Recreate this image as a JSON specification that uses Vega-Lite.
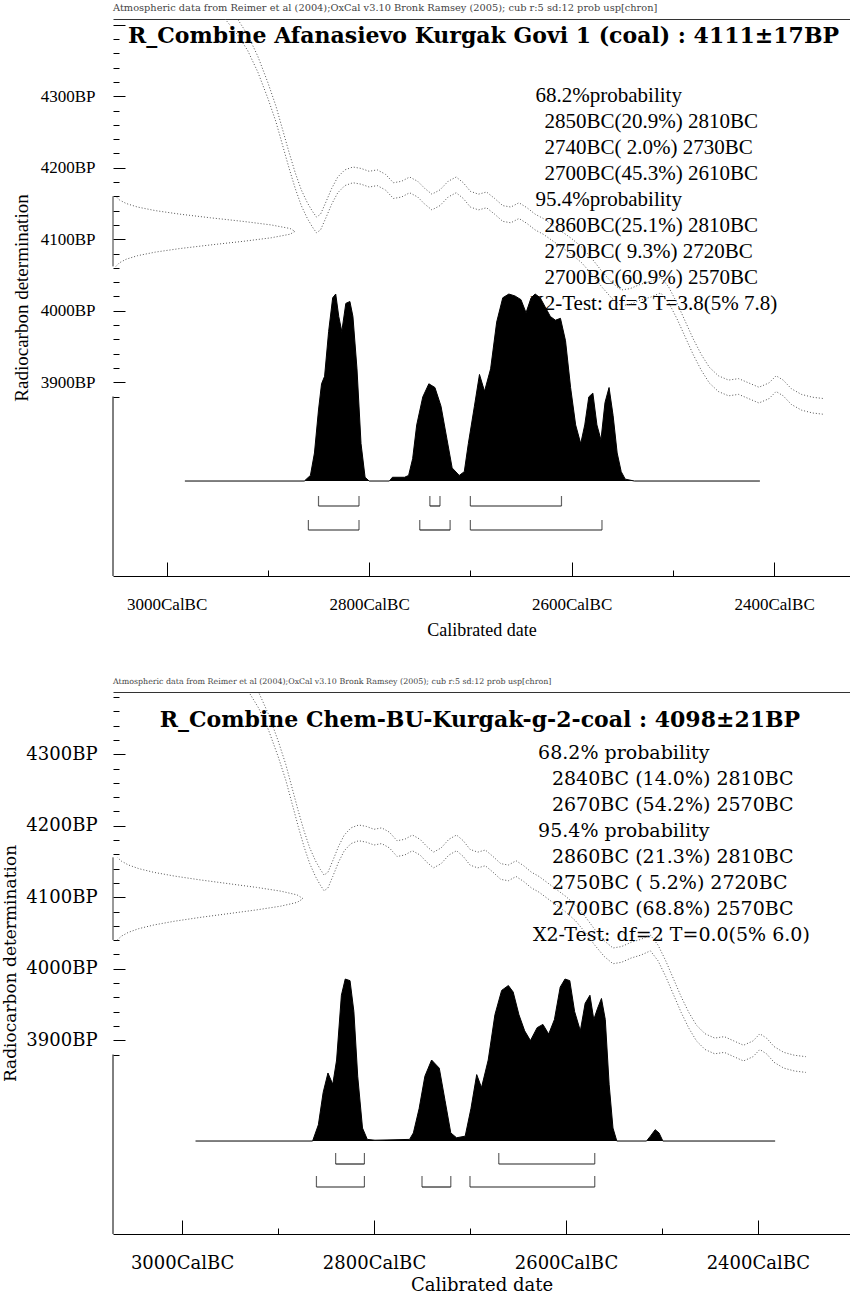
{
  "$schema": "https://vega.github.io/schema/vega-lite/v6.json",
  "background": "white",
  "padding": {"left": 1, "top": 3, "right": 0, "bottom": 0},
  "spacing": 39,
  "config": {
    "view": {"stroke": null},
    "font": "Liberation Serif",
    "axis": {"grid": false, "labelColor": "black", "titleColor": "black", "domainColor": "black", "tickColor": "black", "titleFontWeight": "normal", "labelFlush": false}
  },
  "datasets": {
    "curve": [
      {"year": 2950, "hi": 4443, "lo": 4421}, {"year": 2940, "hi": 4426, "lo": 4404}, {"year": 2930, "hi": 4408, "lo": 4386},
      {"year": 2920, "hi": 4386, "lo": 4364}, {"year": 2910, "hi": 4356, "lo": 4334}, {"year": 2900, "hi": 4319, "lo": 4297},
      {"year": 2892, "hi": 4286, "lo": 4264}, {"year": 2885, "hi": 4251, "lo": 4229}, {"year": 2879, "hi": 4221, "lo": 4199},
      {"year": 2873, "hi": 4193, "lo": 4171}, {"year": 2867, "hi": 4169, "lo": 4147}, {"year": 2861, "hi": 4151, "lo": 4129},
      {"year": 2856, "hi": 4139, "lo": 4117}, {"year": 2852, "hi": 4131, "lo": 4109}, {"year": 2848, "hi": 4135, "lo": 4113},
      {"year": 2843, "hi": 4151, "lo": 4129}, {"year": 2837, "hi": 4171, "lo": 4149}, {"year": 2831, "hi": 4187, "lo": 4165},
      {"year": 2824, "hi": 4197, "lo": 4175}, {"year": 2816, "hi": 4201, "lo": 4179}, {"year": 2808, "hi": 4199, "lo": 4177},
      {"year": 2800, "hi": 4195, "lo": 4173}, {"year": 2792, "hi": 4197, "lo": 4175}, {"year": 2784, "hi": 4191, "lo": 4169},
      {"year": 2776, "hi": 4179, "lo": 4157}, {"year": 2768, "hi": 4181, "lo": 4159}, {"year": 2760, "hi": 4187, "lo": 4165},
      {"year": 2752, "hi": 4181, "lo": 4159}, {"year": 2745, "hi": 4171, "lo": 4149}, {"year": 2738, "hi": 4163, "lo": 4141},
      {"year": 2730, "hi": 4169, "lo": 4147}, {"year": 2722, "hi": 4181, "lo": 4159}, {"year": 2714, "hi": 4187, "lo": 4165},
      {"year": 2707, "hi": 4179, "lo": 4157}, {"year": 2700, "hi": 4167, "lo": 4145}, {"year": 2692, "hi": 4163, "lo": 4141},
      {"year": 2684, "hi": 4166, "lo": 4144}, {"year": 2676, "hi": 4157, "lo": 4135}, {"year": 2668, "hi": 4147, "lo": 4125},
      {"year": 2660, "hi": 4145, "lo": 4123}, {"year": 2652, "hi": 4151, "lo": 4129}, {"year": 2644, "hi": 4144, "lo": 4122},
      {"year": 2636, "hi": 4135, "lo": 4113}, {"year": 2628, "hi": 4129, "lo": 4107}, {"year": 2620, "hi": 4121, "lo": 4099},
      {"year": 2610, "hi": 4111, "lo": 4089}, {"year": 2600, "hi": 4101, "lo": 4079}, {"year": 2590, "hi": 4089, "lo": 4067},
      {"year": 2580, "hi": 4073, "lo": 4051}, {"year": 2570, "hi": 4055, "lo": 4033}, {"year": 2560, "hi": 4039, "lo": 4017},
      {"year": 2551, "hi": 4029, "lo": 4007}, {"year": 2542, "hi": 4031, "lo": 4009}, {"year": 2532, "hi": 4037, "lo": 4015},
      {"year": 2522, "hi": 4041, "lo": 4019}, {"year": 2512, "hi": 4047, "lo": 4025}, {"year": 2504, "hi": 4033, "lo": 4011},
      {"year": 2496, "hi": 4011, "lo": 3989}, {"year": 2488, "hi": 3986, "lo": 3964}, {"year": 2480, "hi": 3961, "lo": 3939},
      {"year": 2472, "hi": 3939, "lo": 3917}, {"year": 2464, "hi": 3921, "lo": 3899}, {"year": 2455, "hi": 3909, "lo": 3887},
      {"year": 2445, "hi": 3903, "lo": 3881}, {"year": 2435, "hi": 3905, "lo": 3883}, {"year": 2425, "hi": 3899, "lo": 3877},
      {"year": 2415, "hi": 3893, "lo": 3871}, {"year": 2405, "hi": 3899, "lo": 3877}, {"year": 2398, "hi": 3909, "lo": 3887},
      {"year": 2391, "hi": 3903, "lo": 3881}, {"year": 2383, "hi": 3891, "lo": 3869}, {"year": 2373, "hi": 3883, "lo": 3861},
      {"year": 2362, "hi": 3879, "lo": 3857}, {"year": 2350, "hi": 3877, "lo": 3855}
    ],
    "gauss1": [
      {"bp": 4160, "d": 0.016}, {"bp": 4155, "d": 0.035}, {"bp": 4150, "d": 0.072}, {"bp": 4145, "d": 0.135},
      {"bp": 4140, "d": 0.233}, {"bp": 4135, "d": 0.369}, {"bp": 4130, "d": 0.535}, {"bp": 4125, "d": 0.713},
      {"bp": 4120, "d": 0.869}, {"bp": 4115, "d": 0.973}, {"bp": 4111, "d": 1.0}, {"bp": 4107, "d": 0.973},
      {"bp": 4102, "d": 0.869}, {"bp": 4097, "d": 0.713}, {"bp": 4092, "d": 0.535}, {"bp": 4087, "d": 0.369},
      {"bp": 4082, "d": 0.233}, {"bp": 4077, "d": 0.135}, {"bp": 4072, "d": 0.072}, {"bp": 4067, "d": 0.035},
      {"bp": 4062, "d": 0.016}
    ],
    "gauss2": [
      {"bp": 4155.75, "d": 0.023}, {"bp": 4150.5, "d": 0.044}, {"bp": 4145.25, "d": 0.08}, {"bp": 4140, "d": 0.135},
      {"bp": 4134.75, "d": 0.216}, {"bp": 4129.5, "d": 0.325}, {"bp": 4124.25, "d": 0.458}, {"bp": 4119, "d": 0.607},
      {"bp": 4113.75, "d": 0.755}, {"bp": 4108.5, "d": 0.883}, {"bp": 4103.25, "d": 0.969}, {"bp": 4098, "d": 1.0},
      {"bp": 4092.75, "d": 0.969}, {"bp": 4087.5, "d": 0.883}, {"bp": 4082.25, "d": 0.755}, {"bp": 4077, "d": 0.607},
      {"bp": 4071.75, "d": 0.458}, {"bp": 4066.5, "d": 0.325}, {"bp": 4061.25, "d": 0.216}, {"bp": 4056, "d": 0.135},
      {"bp": 4050.75, "d": 0.08}, {"bp": 4045.5, "d": 0.044}, {"bp": 4040.25, "d": 0.023}
    ],
    "dist1": [
      {"year": 2982, "p": 0}, {"year": 2864, "p": 0}, {"year": 2858, "p": 0.03}, {"year": 2854, "p": 0.15},
      {"year": 2850, "p": 0.38}, {"year": 2847, "p": 0.52}, {"year": 2844, "p": 0.56}, {"year": 2840, "p": 0.8},
      {"year": 2836, "p": 0.98}, {"year": 2833, "p": 1.0}, {"year": 2830, "p": 0.88}, {"year": 2827, "p": 0.8},
      {"year": 2823, "p": 0.95}, {"year": 2819, "p": 0.96}, {"year": 2816, "p": 0.88}, {"year": 2812, "p": 0.6},
      {"year": 2808, "p": 0.2}, {"year": 2804, "p": 0.02}, {"year": 2800, "p": 0}, {"year": 2780, "p": 0},
      {"year": 2777, "p": 0.02}, {"year": 2765, "p": 0.02}, {"year": 2761, "p": 0.03}, {"year": 2757, "p": 0.12},
      {"year": 2753, "p": 0.3}, {"year": 2747, "p": 0.45}, {"year": 2741, "p": 0.52}, {"year": 2735, "p": 0.5},
      {"year": 2729, "p": 0.4}, {"year": 2723, "p": 0.22}, {"year": 2718, "p": 0.07}, {"year": 2711, "p": 0.03},
      {"year": 2706, "p": 0.05}, {"year": 2702, "p": 0.2}, {"year": 2696, "p": 0.4}, {"year": 2691, "p": 0.57},
      {"year": 2686, "p": 0.48}, {"year": 2680, "p": 0.6}, {"year": 2674, "p": 0.85}, {"year": 2668, "p": 0.98},
      {"year": 2662, "p": 1.0}, {"year": 2656, "p": 0.99}, {"year": 2650, "p": 0.97}, {"year": 2645, "p": 0.9},
      {"year": 2640, "p": 0.98}, {"year": 2636, "p": 1.0}, {"year": 2631, "p": 0.98}, {"year": 2626, "p": 0.93},
      {"year": 2621, "p": 0.88}, {"year": 2616, "p": 0.86}, {"year": 2611, "p": 0.87}, {"year": 2606, "p": 0.75},
      {"year": 2601, "p": 0.5}, {"year": 2596, "p": 0.3}, {"year": 2591, "p": 0.2}, {"year": 2587, "p": 0.3},
      {"year": 2583, "p": 0.45}, {"year": 2579, "p": 0.47}, {"year": 2575, "p": 0.3}, {"year": 2571, "p": 0.22},
      {"year": 2567, "p": 0.42}, {"year": 2563, "p": 0.5}, {"year": 2559, "p": 0.35}, {"year": 2555, "p": 0.15},
      {"year": 2551, "p": 0.05}, {"year": 2547, "p": 0.01}, {"year": 2538, "p": 0}, {"year": 2414, "p": 0}
    ],
    "dist2": [
      {"year": 2986, "p": 0}, {"year": 2864, "p": 0}, {"year": 2858, "p": 0.1}, {"year": 2853, "p": 0.3},
      {"year": 2848, "p": 0.42}, {"year": 2843, "p": 0.35}, {"year": 2839, "p": 0.5}, {"year": 2834, "p": 0.9},
      {"year": 2830, "p": 1.0}, {"year": 2825, "p": 0.99}, {"year": 2821, "p": 0.8}, {"year": 2817, "p": 0.4},
      {"year": 2812, "p": 0.08}, {"year": 2807, "p": 0.01}, {"year": 2799, "p": 0.005}, {"year": 2763, "p": 0.01},
      {"year": 2759, "p": 0.05}, {"year": 2753, "p": 0.2}, {"year": 2747, "p": 0.4}, {"year": 2740, "p": 0.5},
      {"year": 2732, "p": 0.45}, {"year": 2726, "p": 0.25}, {"year": 2720, "p": 0.05}, {"year": 2714, "p": 0.02},
      {"year": 2705, "p": 0.03}, {"year": 2699, "p": 0.2}, {"year": 2693, "p": 0.41}, {"year": 2688, "p": 0.33},
      {"year": 2681, "p": 0.5}, {"year": 2674, "p": 0.78}, {"year": 2667, "p": 0.93}, {"year": 2660, "p": 0.96},
      {"year": 2655, "p": 0.92}, {"year": 2649, "p": 0.78}, {"year": 2643, "p": 0.68}, {"year": 2637, "p": 0.62},
      {"year": 2630, "p": 0.7}, {"year": 2624, "p": 0.72}, {"year": 2618, "p": 0.66}, {"year": 2612, "p": 0.75},
      {"year": 2606, "p": 0.95}, {"year": 2601, "p": 1.0}, {"year": 2596, "p": 0.99}, {"year": 2591, "p": 0.8},
      {"year": 2585, "p": 0.68}, {"year": 2580, "p": 0.85}, {"year": 2575, "p": 0.9}, {"year": 2571, "p": 0.75},
      {"year": 2567, "p": 0.82}, {"year": 2563, "p": 0.88}, {"year": 2559, "p": 0.75}, {"year": 2555, "p": 0.35},
      {"year": 2551, "p": 0.08}, {"year": 2547, "p": 0}, {"year": 2516, "p": 0}, {"year": 2512, "p": 0.03},
      {"year": 2507, "p": 0.07}, {"year": 2503, "p": 0.05}, {"year": 2499, "p": 0}, {"year": 2382, "p": 0}
    ],
    "ranges1": [
      {"row": 1, "from": 2850, "to": 2810}, {"row": 1, "from": 2740, "to": 2730}, {"row": 1, "from": 2700, "to": 2610},
      {"row": 2, "from": 2860, "to": 2810}, {"row": 2, "from": 2750, "to": 2720}, {"row": 2, "from": 2700, "to": 2570}
    ],
    "ranges2": [
      {"row": 1, "from": 2840, "to": 2810}, {"row": 1, "from": 2670, "to": 2570},
      {"row": 2, "from": 2860, "to": 2810}, {"row": 2, "from": 2750, "to": 2720}, {"row": 2, "from": 2700, "to": 2570}
    ],
    "text1": [
      {"n": 1, "kind": "head", "t": "68.2%probability"},
      {"n": 2, "kind": "range", "t": "2850BC(20.9%) 2810BC"},
      {"n": 3, "kind": "range", "t": "2740BC( 2.0%) 2730BC"},
      {"n": 4, "kind": "range", "t": "2700BC(45.3%) 2610BC"},
      {"n": 5, "kind": "head", "t": "95.4%probability"},
      {"n": 6, "kind": "range", "t": "2860BC(25.1%) 2810BC"},
      {"n": 7, "kind": "range", "t": "2750BC( 9.3%) 2720BC"},
      {"n": 8, "kind": "range", "t": "2700BC(60.9%) 2570BC"},
      {"n": 9, "kind": "test", "t": "X2-Test: df=3 T=3.8(5% 7.8)"}
    ],
    "text2": [
      {"n": 1, "kind": "head", "t": "68.2% probability"},
      {"n": 2, "kind": "range", "t": "2840BC (14.0%) 2810BC"},
      {"n": 3, "kind": "range", "t": "2670BC (54.2%) 2570BC"},
      {"n": 4, "kind": "head", "t": "95.4% probability"},
      {"n": 5, "kind": "range", "t": "2860BC (21.3%) 2810BC"},
      {"n": 6, "kind": "range", "t": "2750BC ( 5.2%) 2720BC"},
      {"n": 7, "kind": "range", "t": "2700BC (68.8%) 2570BC"},
      {"n": 8, "kind": "test", "t": "X2-Test: df=2 T=0.0(5% 6.0)"}
    ]
  },
  "vconcat": [
    {
      "title": {"text": "Atmospheric data from Reimer et al (2004);OxCal v3.10 Bronk Ramsey (2005); cub r:5 sd:12 prob usp[chron]", "anchor": "start", "frame": "group", "font": "DejaVu Serif", "fontSize": 9.8, "fontWeight": "normal", "color": "#444", "offset": 6},
      "width": 737,
      "height": 557,
      "resolve": {"scale": {"x": "independent", "y": "independent"}, "axis": {"x": "independent", "y": "independent"}},
      "layer": [
        {
          "data": {"values": [{}]},
          "mark": {"type": "rule", "color": "black", "strokeWidth": 1},
          "encoding": {
            "x": {"datum": 3053, "type": "quantitative", "scale": {"domain": [3053, 2325], "nice": false, "zero": false}, "axis": null},
            "y": {"datum": 3880, "type": "quantitative", "scale": {"domain": [3629, 4408], "nice": false, "zero": false}, "axis": null},
            "y2": {"datum": 3629}
          }
        },
        {
          "data": {"name": "gauss1"},
          "mark": {"type": "rule", "color": "#333", "strokeWidth": 1},
          "encoding": {
            "x": {"datum": 0, "type": "quantitative", "scale": {"domain": [0, 4.05], "nice": false, "zero": false}, "axis": null},
            "y": {"aggregate": "min", "field": "bp", "type": "quantitative", "scale": {"domain": [3629, 4408], "nice": false, "zero": false}, "axis": null},
            "y2": {"aggregate": "max", "field": "bp"}
          }
        },
        {
          "data": {"name": "text1"},
          "transform": [{"filter": "datum.kind === 'head'"}],
          "mark": {"type": "text", "align": "left", "baseline": "middle", "font": "Liberation Serif", "fontSize": 21, "color": "black"},
          "encoding": {
            "x": {"datum": 2635.6, "type": "quantitative", "scale": {"domain": [3053, 2325], "nice": false, "zero": false}, "axis": null},
            "y": {"field": "n", "type": "quantitative", "scale": {"domain": [19.46, -1.96], "nice": false, "zero": false}, "axis": null},
            "text": {"field": "t"}
          }
        },
        {
          "data": {"name": "text1"},
          "transform": [{"filter": "datum.kind === 'range'"}],
          "mark": {"type": "text", "align": "left", "baseline": "middle", "font": "Liberation Serif", "fontSize": 21, "color": "black"},
          "encoding": {
            "x": {"datum": 2626.7, "type": "quantitative", "scale": {"domain": [3053, 2325], "nice": false, "zero": false}, "axis": null},
            "y": {"field": "n", "type": "quantitative", "scale": {"domain": [19.46, -1.96], "nice": false, "zero": false}, "axis": null},
            "text": {"field": "t"}
          }
        },
        {
          "data": {"name": "text1"},
          "transform": [{"filter": "datum.kind === 'test'"}],
          "mark": {"type": "text", "align": "left", "baseline": "middle", "font": "Liberation Serif", "fontSize": 21, "color": "black"},
          "encoding": {
            "x": {"datum": 2641.5, "type": "quantitative", "scale": {"domain": [3053, 2325], "nice": false, "zero": false}, "axis": null},
            "y": {"field": "n", "type": "quantitative", "scale": {"domain": [19.46, -1.96], "nice": false, "zero": false}, "axis": null},
            "text": {"field": "t"}
          }
        },
        {
          "data": {"name": "curve"},
          "transform": [{"fold": ["hi", "lo"], "as": ["bound", "bp"]}],
          "mark": {"type": "line", "color": "#555", "strokeWidth": 1, "strokeDash": [1, 2], "clip": true},
          "encoding": {
            "x": {"field": "year", "type": "quantitative", "scale": {"domain": [3053, 2325], "nice": false, "zero": false},
                  "axis": {"orient": "top", "domain": true, "domainColor": "#333", "ticks": false, "labels": false, "title": null}},
            "y": {"field": "bp", "type": "quantitative", "scale": {"domain": [3629, 4408], "nice": false, "zero": false},
                  "axis": {"orient": "left", "domain": false,
                           "values": [3880, 3900, 3920, 3940, 3960, 3980, 4000, 4020, 4040, 4060, 4080, 4100, 4120, 4140, 4160, 4180, 4200, 4220, 4240, 4260, 4280, 4300, 4320, 4340, 4360, 4380, 4400],
                           "labelExpr": "datum.value % 100 === 0 && datum.value <= 4300 ? datum.value + 'BP' : ''",
                           "tickSize": {"condition": {"test": "datum.value % 100 === 0", "value": -12}, "value": -6},
                           "labelPadding": 30, "labelFont": "Liberation Serif", "labelFontSize": 17,
                           "title": "Radiocarbon determination", "titleFont": "Liberation Serif", "titleFontSize": 19, "titlePadding": 9}},
            "detail": {"field": "bound"}
          }
        },
        {
          "data": {"name": "gauss1"},
          "mark": {"type": "line", "color": "#555", "strokeWidth": 1, "strokeDash": [1, 2]},
          "encoding": {
            "x": {"field": "d", "type": "quantitative", "scale": {"domain": [0, 4.05], "nice": false, "zero": false}, "axis": null},
            "y": {"field": "bp", "type": "quantitative", "scale": {"domain": [3629, 4408], "nice": false, "zero": false}, "axis": null},
            "order": {"field": "bp"}
          }
        },
        {
          "data": {"name": "dist1"},
          "mark": {"type": "area", "color": "black", "opacity": 1, "fillOpacity": 1, "line": {"color": "black", "strokeWidth": 1}},
          "encoding": {
            "x": {"field": "year", "type": "quantitative", "scale": {"domain": [3053, 2325], "nice": false, "zero": false},
                  "axis": {"orient": "bottom", "values": [3000, 2900, 2800, 2700, 2600, 2500, 2400],
                           "labelExpr": "datum.value % 200 === 0 ? datum.value + 'CalBC' : ''",
                           "tickSize": {"condition": {"test": "datum.value % 200 === 0", "value": -14}, "value": -6},
                           "labelPadding": 34, "labelFont": "Liberation Serif", "labelFontSize": 17,
                           "title": "Calibrated date", "titleFont": "Liberation Serif", "titleFontSize": 18, "titlePadding": 9}},
            "y": {"field": "p", "type": "quantitative", "scale": {"domain": [-0.508, 2.471], "nice": false, "zero": false}, "axis": null},
            "y2": {"datum": 0}
          }
        },
        {
          "data": {"name": "ranges1"},
          "mark": {"type": "rule", "color": "#222", "strokeWidth": 1.2},
          "encoding": {
            "x": {"field": "from", "type": "quantitative", "scale": {"domain": [3053, 2325], "nice": false, "zero": false}, "axis": null},
            "x2": {"field": "to"},
            "y": {"field": "row", "type": "quantitative", "scale": {"domain": [3.917, -19.29], "nice": false, "zero": false}, "axis": null}
          }
        },
        {
          "data": {"name": "ranges1"},
          "transform": [{"fold": ["from", "to"], "as": ["end", "yr"]}],
          "mark": {"type": "tick", "orient": "vertical", "color": "#222", "thickness": 1.2, "size": 10, "yOffset": -5},
          "encoding": {
            "x": {"field": "yr", "type": "quantitative", "scale": {"domain": [3053, 2325], "nice": false, "zero": false}, "axis": null},
            "y": {"field": "row", "type": "quantitative", "scale": {"domain": [3.917, -19.29], "nice": false, "zero": false}, "axis": null}
          }
        },
        {
          "data": {"values": [{"t": "R_Combine Afanasievo Kurgak Govi 1 (coal) : 4111±17BP"}]},
          "mark": {"type": "text", "align": "center", "baseline": "middle", "font": "DejaVu Serif", "fontWeight": "bold", "fontSize": 22, "color": "black"},
          "encoding": {
            "x": {"datum": 2687, "type": "quantitative", "scale": {"domain": [3053, 2325], "nice": false, "zero": false}, "axis": null},
            "y": {"datum": -1.3, "type": "quantitative", "scale": {"domain": [19.46, -1.96], "nice": false, "zero": false}, "axis": null},
            "text": {"field": "t"}
          }
        }
      ]
    },
    {
      "title": {"text": "Atmospheric data from Reimer et al (2004);OxCal v3.10 Bronk Ramsey (2005); cub r:5 sd:12 prob usp[chron]", "anchor": "start", "frame": "group", "font": "DejaVu Serif", "fontSize": 7.9, "fontWeight": "normal", "color": "#444", "offset": 6},
      "width": 737,
      "height": 542,
      "resolve": {"scale": {"x": "independent", "y": "independent"}, "axis": {"x": "independent", "y": "independent"}},
      "layer": [
        {
          "data": {"values": [{}]},
          "mark": {"type": "rule", "color": "black", "strokeWidth": 1},
          "encoding": {
            "x": {"datum": 3072, "type": "quantitative", "scale": {"domain": [3072, 2304], "nice": false, "zero": false}, "axis": null},
            "y": {"datum": 3880, "type": "quantitative", "scale": {"domain": [3629, 4387], "nice": false, "zero": false}, "axis": null},
            "y2": {"datum": 3629}
          }
        },
        {
          "data": {"name": "gauss2"},
          "mark": {"type": "rule", "color": "#333", "strokeWidth": 1},
          "encoding": {
            "x": {"datum": 0, "type": "quantitative", "scale": {"domain": [0, 3.879], "nice": false, "zero": false}, "axis": null},
            "y": {"aggregate": "min", "field": "bp", "type": "quantitative", "scale": {"domain": [3629, 4387], "nice": false, "zero": false}, "axis": null},
            "y2": {"aggregate": "max", "field": "bp"}
          }
        },
        {
          "data": {"name": "text2"},
          "transform": [{"filter": "datum.kind === 'head'"}],
          "mark": {"type": "text", "align": "left", "baseline": "middle", "font": "DejaVu Serif", "fontSize": 19, "color": "black"},
          "encoding": {
            "x": {"datum": 2629, "type": "quantitative", "scale": {"domain": [3072, 2304], "nice": false, "zero": false}, "axis": null},
            "y": {"field": "n", "type": "quantitative", "scale": {"domain": [19.5, -1.346], "nice": false, "zero": false}, "axis": null},
            "text": {"field": "t"}
          }
        },
        {
          "data": {"name": "text2"},
          "transform": [{"filter": "datum.kind === 'range'"}],
          "mark": {"type": "text", "align": "left", "baseline": "middle", "font": "DejaVu Serif", "fontSize": 19, "color": "black"},
          "encoding": {
            "x": {"datum": 2614.6, "type": "quantitative", "scale": {"domain": [3072, 2304], "nice": false, "zero": false}, "axis": null},
            "y": {"field": "n", "type": "quantitative", "scale": {"domain": [19.5, -1.346], "nice": false, "zero": false}, "axis": null},
            "text": {"field": "t"}
          }
        },
        {
          "data": {"name": "text2"},
          "transform": [{"filter": "datum.kind === 'test'"}],
          "mark": {"type": "text", "align": "left", "baseline": "middle", "font": "DejaVu Serif", "fontSize": 19, "color": "black"},
          "encoding": {
            "x": {"datum": 2634.4, "type": "quantitative", "scale": {"domain": [3072, 2304], "nice": false, "zero": false}, "axis": null},
            "y": {"field": "n", "type": "quantitative", "scale": {"domain": [19.5, -1.346], "nice": false, "zero": false}, "axis": null},
            "text": {"field": "t"}
          }
        },
        {
          "data": {"name": "curve"},
          "transform": [{"fold": ["hi", "lo"], "as": ["bound", "bp"]}],
          "mark": {"type": "line", "color": "#555", "strokeWidth": 1, "strokeDash": [1, 2], "clip": true},
          "encoding": {
            "x": {"field": "year", "type": "quantitative", "scale": {"domain": [3072, 2304], "nice": false, "zero": false},
                  "axis": {"orient": "top", "domain": true, "domainColor": "#333", "ticks": false, "labels": false, "title": null}},
            "y": {"field": "bp", "type": "quantitative", "scale": {"domain": [3629, 4387], "nice": false, "zero": false},
                  "axis": {"orient": "left", "domain": false,
                           "values": [3880, 3900, 3920, 3940, 3960, 3980, 4000, 4020, 4040, 4060, 4080, 4100, 4120, 4140, 4160, 4180, 4200, 4220, 4240, 4260, 4280, 4300, 4320, 4340, 4360, 4380],
                           "labelExpr": "datum.value % 100 === 0 && datum.value <= 4300 ? datum.value + 'BP' : ''",
                           "tickSize": {"condition": {"test": "datum.value % 100 === 0", "value": -12}, "value": -6},
                           "labelPadding": 28, "labelFont": "DejaVu Serif", "labelFontSize": 18,
                           "title": "Radiocarbon determination", "titleFont": "DejaVu Serif", "titleFontSize": 17, "titlePadding": 6}},
            "detail": {"field": "bound"}
          }
        },
        {
          "data": {"name": "gauss2"},
          "mark": {"type": "line", "color": "#555", "strokeWidth": 1, "strokeDash": [1, 2]},
          "encoding": {
            "x": {"field": "d", "type": "quantitative", "scale": {"domain": [0, 3.879], "nice": false, "zero": false}, "axis": null},
            "y": {"field": "bp", "type": "quantitative", "scale": {"domain": [3629, 4387], "nice": false, "zero": false}, "axis": null},
            "order": {"field": "bp"}
          }
        },
        {
          "data": {"name": "dist2"},
          "mark": {"type": "area", "color": "black", "opacity": 1, "fillOpacity": 1, "line": {"color": "black", "strokeWidth": 1}},
          "encoding": {
            "x": {"field": "year", "type": "quantitative", "scale": {"domain": [3072, 2304], "nice": false, "zero": false},
                  "axis": {"orient": "bottom", "values": [3000, 2900, 2800, 2700, 2600, 2500, 2400],
                           "labelExpr": "datum.value % 200 === 0 ? datum.value + 'CalBC' : ''",
                           "tickSize": {"condition": {"test": "datum.value % 200 === 0", "value": -14}, "value": -6},
                           "labelPadding": 34, "labelFont": "DejaVu Serif", "labelFontSize": 18,
                           "title": "Calibrated date", "titleFont": "DejaVu Serif", "titleFontSize": 18, "titlePadding": 4}},
            "y": {"field": "p", "type": "quantitative", "scale": {"domain": [-0.574, 2.772], "nice": false, "zero": false}, "axis": null},
            "y2": {"datum": 0}
          }
        },
        {
          "data": {"name": "ranges2"},
          "mark": {"type": "rule", "color": "#222", "strokeWidth": 1.2},
          "encoding": {
            "x": {"field": "from", "type": "quantitative", "scale": {"domain": [3072, 2304], "nice": false, "zero": false}, "axis": null},
            "x2": {"field": "to"},
            "y": {"field": "row", "type": "quantitative", "scale": {"domain": [4.043, -19.52], "nice": false, "zero": false}, "axis": null}
          }
        },
        {
          "data": {"name": "ranges2"},
          "transform": [{"fold": ["from", "to"], "as": ["end", "yr"]}],
          "mark": {"type": "tick", "orient": "vertical", "color": "#222", "thickness": 1.2, "size": 11, "yOffset": -5.5},
          "encoding": {
            "x": {"field": "yr", "type": "quantitative", "scale": {"domain": [3072, 2304], "nice": false, "zero": false}, "axis": null},
            "y": {"field": "row", "type": "quantitative", "scale": {"domain": [4.043, -19.52], "nice": false, "zero": false}, "axis": null}
          }
        },
        {
          "data": {"values": [{"t": "R_Combine Chem-BU-Kurgak-g-2-coal : 4098±21BP"}]},
          "mark": {"type": "text", "align": "center", "baseline": "middle", "font": "DejaVu Serif", "fontWeight": "bold", "fontSize": 22, "color": "black"},
          "encoding": {
            "x": {"datum": 2689.6, "type": "quantitative", "scale": {"domain": [3072, 2304], "nice": false, "zero": false}, "axis": null},
            "y": {"datum": -0.25, "type": "quantitative", "scale": {"domain": [19.5, -1.346], "nice": false, "zero": false}, "axis": null},
            "text": {"field": "t"}
          }
        }
      ]
    }
  ]
}
